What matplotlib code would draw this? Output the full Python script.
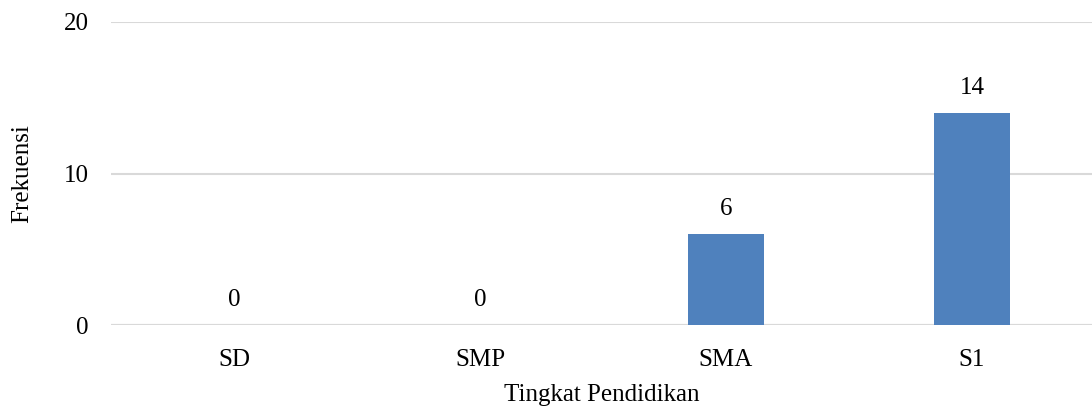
import matplotlib
matplotlib.use("Agg")
import matplotlib.pyplot as plt

categories = ["SD", "SMP", "SMA", "S1"]
values = [0, 0, 6, 14]
yticks = [0, 10, 20]

plt.rcParams['font.family'] = ['Liberation Serif', 'DejaVu Serif']

fig = plt.figure(figsize=(10.92, 4.08), dpi=100)
ax = fig.add_axes([111/1092, 83/408, 981/1092, 303/408])

x = range(len(categories))
ax.bar(x, values, width=0.31, color="#4F81BD", zorder=3)

for xi, v in zip(x, values):
    ax.annotate(str(v), (xi, v), xytext=(0, 10), textcoords="offset points",
                ha="center", va="bottom", fontsize=18, color="#000000")

ax.set_xlim(-0.5, -0.5 + 981/246)
ax.set_ylim(0, 20)
ax.set_yticks(yticks)
ax.set_xticks(list(x))
ax.set_xticklabels(categories)
ax.tick_params(axis="both", length=0, labelsize=18, colors="#000000")
ax.tick_params(axis="y", pad=16)
ax.tick_params(axis="x", pad=17)
ax.grid(axis="y", color="#D9D9D9", linewidth=1.5, zorder=0)
ax.set_axisbelow(True)
for s in ax.spines.values():
    s.set_visible(False)
ax.axhline(0, color="#D9D9D9", linewidth=1.5, zorder=1)

ax.set_xlabel("Tingkat Pendidikan", fontsize=18, labelpad=10)
ax.set_ylabel("Frekuensi", fontsize=18, labelpad=22)

fig.savefig("out.png", dpi=100)
